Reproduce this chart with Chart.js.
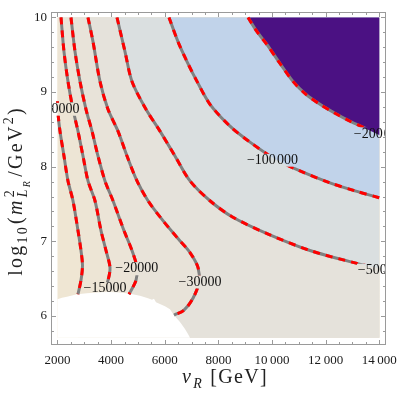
<!DOCTYPE html>
<html>
<head>
<meta charset="utf-8">
<script src="https://cdn.jsdelivr.net/npm/chart.js@4.4.1/dist/chart.umd.min.js"></script>
<style>
	html, body { margin: 0; padding: 0; background: #ffffff; }
</style>
</head>
<body>
<canvas id="chart" width="407" height="401"></canvas>
<script>
// data region of the scan
const X_MIN = 2000, X_MAX = 14000;
const Y_MIN = 5.707, Y_MAX = 10;

const X_TICKS = [2000, 4000, 6000, 8000, 10000, 12000, 14000];
const X_TICK_LABELS = ["2000", "4000", "6000", "8000", "10\u2009000", "12\u2009000", "14\u2009000"];
const Y_TICKS = [6, 7, 8, 9, 10];
const Y_TICK_LABELS = ["6", "7", "8", "9", "10"];

// contour levels, label text and label anchor [vR, log10 m^2]
const LEVELS = [-10000, -15000, -20000, -30000, -50000, -100000, -200000];
const LEVEL_LABELS = ["\u221210000", "\u221215000", "\u221220000", "\u221230000", "\u221250000", "\u2212100\u200a000", "\u2212200\u200a000"];
const LABEL_POS = [[2019, 8.769], [3771, 6.365], [4953, 6.632], [7314, 6.453], [14000, 6.61], [10017, 8.085], [14000, 8.44]];

// contour lines [vR (GeV), log10(m^2/GeV^2)]
const CONTOUR_M10K = [[2000, 8.876], [2019, 8.716], [2093, 8.476], [2242, 8.143], [2391, 7.809], [2578, 7.543], [2764, 7.143], [2876, 6.876], [2932, 6.676], [2876, 6.476], [2764, 6.289]];
const CONTOUR_M15K = [[2131, 10], [2242, 9.543], [2391, 9.143], [2578, 8.769], [2764, 8.476], [2951, 8.143], [3138, 7.809], [3398, 7.543], [3622, 7.143], [3809, 6.876], [3958, 6.649], [3883, 6.476], [3697, 6.316]];
const CONTOUR_M20K = [[2503, 10], [2653, 9.543], [2839, 9.143], [3063, 8.769], [3287, 8.476], [3510, 8.143], [3771, 7.809], [4070, 7.543], [4480, 7.143], [4778, 6.876], [4965, 6.649], [4927, 6.476], [4666, 6.289]];
const CONTOUR_M30K = [[3137, 10], [3324, 9.676], [3585, 9.143], [3883, 8.769], [4256, 8.476], [4592, 8.143], [4965, 7.809], [5375, 7.543], [5934, 7.276], [6493, 7.036], [6941, 6.849], [7239, 6.649], [7276, 6.449], [7053, 6.236], [6717, 6.076], [6344, 6.01]];
const CONTOUR_M50K = [[4219, 10], [4517, 9.543], [4778, 9.143], [5300, 8.769], [5822, 8.476], [6381, 8.143], [6941, 7.809], [7686, 7.543], [8507, 7.329], [9812, 7.103], [11416, 6.876], [13168, 6.703], [14000, 6.636]];
const CONTOUR_M100K = [[6158, 10], [6493, 9.676], [6829, 9.409], [7202, 9.143], [7687, 8.836], [8432, 8.543], [9178, 8.329], [10110, 8.103], [11042, 7.943], [12161, 7.783], [13093, 7.676], [14000, 7.583]];
const CONTOUR_M200K = [[9104, 10], [9440, 9.809], [9812, 9.636], [10297, 9.383], [10781, 9.143], [11266, 8.969], [11788, 8.836], [12347, 8.716], [12907, 8.609], [13466, 8.516], [14000, 8.423]];

// region with no solution (left blank)
const NO_SOLUTION = [[2000, 5.707], [2000, 6.223], [2168, 6.243], [2354, 6.256], [2727, 6.289], [3100, 6.303], [3585, 6.316], [3958, 6.319], [4331, 6.312], [4704, 6.296], [5077, 6.269], [5375, 6.236], [5524, 6.216], [5598, 6.229], [5673, 6.183], [6008, 6.129], [6195, 6.089], [6344, 6.009], [6568, 5.916], [6754, 5.823], [6866, 5.756], [6941, 5.707]];

// fill colour above each level, first one is the background
const REGION_COLORS = ["#efe6d3", "#ede5d5", "#ebe4d7", "#e8e3d9", "#e5e2db", "#dadfe0", "#c1d3ea", "#4b1183"];

const CONTOURS = [CONTOUR_M10K, CONTOUR_M15K, CONTOUR_M20K, CONTOUR_M30K, CONTOUR_M50K, CONTOUR_M100K, CONTOUR_M200K];

const toXY = (arr) => arr.map(([x, y]) => ({ x, y }));

// polygon of the side of a contour with lower values (to the right / top)
function regionBeyond(c) {
	const pts = toXY(c);
	const first = pts[0], last = pts[pts.length - 1];
	if (last.x >= X_MAX) {
		pts.push({ x: X_MAX, y: Y_MAX });
	} else {
		pts.push({ x: last.x, y: Y_MIN }, { x: X_MAX, y: Y_MIN }, { x: X_MAX, y: Y_MAX });
	}
	if (first.x <= X_MIN && first.y < Y_MAX) pts.push({ x: X_MIN, y: Y_MAX });
	return pts;
}

const datasets = [];
datasets.push({
	data: toXY([[X_MIN, Y_MIN], [X_MAX, Y_MIN], [X_MAX, Y_MAX], [X_MIN, Y_MAX]]),
	fill: "shape", backgroundColor: REGION_COLORS[0], borderColor: "transparent", borderWidth: 0,
	pointRadius: 0, tension: 0, order: 100,
});
CONTOURS.forEach((c, i) => {
	datasets.push({
		data: regionBeyond(c),
		fill: "shape", backgroundColor: REGION_COLORS[i + 1], borderColor: "transparent", borderWidth: 0,
		pointRadius: 0, tension: 0, order: 99 - i,
	});
});
datasets.push({
	data: toXY(NO_SOLUTION),
	fill: "shape", backgroundColor: "#ffffff", borderColor: "transparent", borderWidth: 0,
	pointRadius: 0, tension: 0, order: 50,
});
CONTOURS.forEach((c) => {
	datasets.push({
		data: toXY(c), isContour: true, fill: false,
		borderColor: "#808080", borderWidth: 3, pointRadius: 0, tension: 0.3, order: 20,
	});
	datasets.push({
		data: toXY(c), isContour: true, fill: false,
		borderColor: "#ff0000", borderWidth: 3, borderDash: [7, 6], borderCapStyle: "butt",
		pointRadius: 0, tension: 0.3, order: 10,
	});
});

const SERIF = '"Liberation Serif", "DejaVu Serif", serif';
const F = (size, italic) => `${italic ? "italic " : ""}${size}px ${SERIF}`;
const LABEL_FONT = F(14);

function labelBoxes(chart) {
	const { ctx, scales } = chart;
	ctx.save();
	ctx.font = LABEL_FONT;
	const boxes = LEVEL_LABELS.map((t, i) => ({
		t,
		px: scales.x.getPixelForValue(LABEL_POS[i][0]),
		py: scales.y.getPixelForValue(LABEL_POS[i][1]),
		w: ctx.measureText(t).width,
	}));
	ctx.restore();
	return boxes;
}

function layoutRich(ctx, parts, ls) {
	let w = 0;
	const items = [];
	for (const p of parts) {
		ctx.font = p.f;
		ctx.letterSpacing = ls + "px";
		const adv = ctx.measureText(p.t).width;
		items.push(Object.assign({}, p, { x: w }));
		if (!p.stay) w += adv + (p.gap || 0);
	}
	return { items, w };
}

function drawRich(ctx, parts, cx, baseY, target) {
	const n = parts.reduce((s, p) => s + p.t.length, 0);
	const w0 = layoutRich(ctx, parts, 0).w;
	const ls = Math.max(0, (target - w0) / n);
	const { items, w } = layoutRich(ctx, parts, ls);
	items.forEach((it) => {
		ctx.font = it.f;
		ctx.letterSpacing = ls + "px";
		ctx.fillText(it.t, cx - w / 2 + it.x, baseY + (it.dy || 0));
	});
	ctx.letterSpacing = "0px";
}

const contourPlugin = {
	id: "contourLabels",
	beforeDatasetDraw(chart, args) {
		if (!chart.data.datasets[args.index].isContour) return;
		const { ctx, chartArea: a } = chart;
		ctx.save();
		ctx.beginPath();
		ctx.rect(a.left - 5, a.top - 5, a.width + 10, a.height + 10);
		labelBoxes(chart).forEach((b) => ctx.rect(b.px - b.w / 2 - 1, b.py - 6.5, b.w + 2, 13));
		ctx.clip("evenodd");
	},
	afterDatasetDraw(chart, args) {
		if (chart.data.datasets[args.index].isContour) chart.ctx.restore();
	},
	afterDatasetsDraw(chart) {
		const { ctx, chartArea: a } = chart;
		ctx.save();
		ctx.beginPath();
		ctx.rect(a.left, a.top, a.width, a.height);
		ctx.clip();
		ctx.font = LABEL_FONT;
		ctx.fillStyle = "#111111";
		ctx.textAlign = "center";
		ctx.textBaseline = "middle";
		labelBoxes(chart).forEach((b) => ctx.fillText(b.t, b.px, b.py));
		ctx.restore();
	},
};

const framePlugin = {
	id: "frame",
	afterDraw(chart) {
		const { ctx, chartArea: a, scales } = chart;
		const L = Math.round(a.left) + 0.5, R = Math.round(a.right) - 0.5;
		const T = Math.round(a.top) + 0.5, B = Math.round(a.bottom) - 0.5;
		ctx.save();
		ctx.strokeStyle = "#9a9a9a";
		ctx.lineWidth = 1;
		ctx.strokeRect(L, T, R - L, B - T);
		ctx.beginPath();
		for (let v = X_MIN; v <= X_MAX; v += 500) {
			const len = X_TICKS.includes(v) ? 4.5 : 2.5;
			const px = Math.round(scales.x.getPixelForValue(v)) + 0.5;
			ctx.moveTo(px, B); ctx.lineTo(px, B - len);
			ctx.moveTo(px, T); ctx.lineTo(px, T + len);
		}
		for (let k = 29; k <= 50; k++) {
			const v = k / 5;
			const len = Y_TICKS.includes(v) ? 4.5 : 2.5;
			const py = Math.round(scales.y.getPixelForValue(v)) + 0.5;
			ctx.moveTo(L, py); ctx.lineTo(L + len, py);
			ctx.moveTo(R, py); ctx.lineTo(R - len, py);
		}
		ctx.stroke();
		ctx.restore();

		// axis titles
		ctx.save();
		ctx.fillStyle = "#222222";
		ctx.textBaseline = "alphabetic";
		ctx.textAlign = "left";
		drawRich(ctx, [
			{ t: "v", f: F(20, true), gap: 1 },
			{ t: "R", f: F(14, true), dy: 4.5, gap: 7 },
			{ t: "[GeV]", f: F(20) },
		], 225, 383, 86);
		ctx.translate(22, 191);
		ctx.rotate(-Math.PI / 2);
		drawRich(ctx, [
			{ t: "log", f: F(20) },
			{ t: "10", f: F(14), dy: 5, gap: 1 },
			{ t: "(", f: F(20) },
			{ t: "m", f: F(20, true), gap: 1 },
			{ t: "2", f: F(14), dy: -8, stay: true },
			{ t: "L", f: F(14, true), dy: 5 },
			{ t: "R", f: F(10, true), dy: 8, gap: 2 },
			{ t: "/", f: F(20) },
			{ t: "GeV", f: F(20) },
			{ t: "2", f: F(14), dy: -9 },
			{ t: ")", f: F(20) },
		], 0, 0, 172);
		ctx.restore();
	},
};

new Chart(document.getElementById("chart"), {
	type: "line",
	data: { datasets },
	options: {
		responsive: false,
		animation: false,
		events: [],
		layout: { padding: { left: 0, right: 21, top: 10, bottom: 0 } },
		plugins: { legend: { display: false }, tooltip: { enabled: false } },
		scales: {
			x: {
				type: "linear",
				min: 1758,
				max: 14250,
				grid: { display: false, drawTicks: false },
				border: { display: false },
				afterFit(scale) { scale.height = 56.5; },
				afterBuildTicks(scale) { scale.ticks = X_TICKS.map((v) => ({ value: v })); },
				ticks: {
					autoSkip: false,
					maxRotation: 0,
					padding: 8,
					color: "#1a1a1a",
					font: { family: SERIF, size: 13 },
					callback: (v) => X_TICK_LABELS[X_TICKS.indexOf(v)],
				},
			},
			y: {
				type: "linear",
				min: 5.616,
				max: 10.076,
				grid: { display: false, drawTicks: false },
				border: { display: false },
				afterFit(scale) { scale.width = 51; },
				afterBuildTicks(scale) { scale.ticks = Y_TICKS.map((v) => ({ value: v })); },
				ticks: {
					autoSkip: false,
					padding: 4,
					color: "#1a1a1a",
					font: { family: SERIF, size: 13 },
					callback: (v) => Y_TICK_LABELS[Y_TICKS.indexOf(v)],
				},
			},
		},
	},
	plugins: [contourPlugin, framePlugin],
});
</script>
</body>
</html>
